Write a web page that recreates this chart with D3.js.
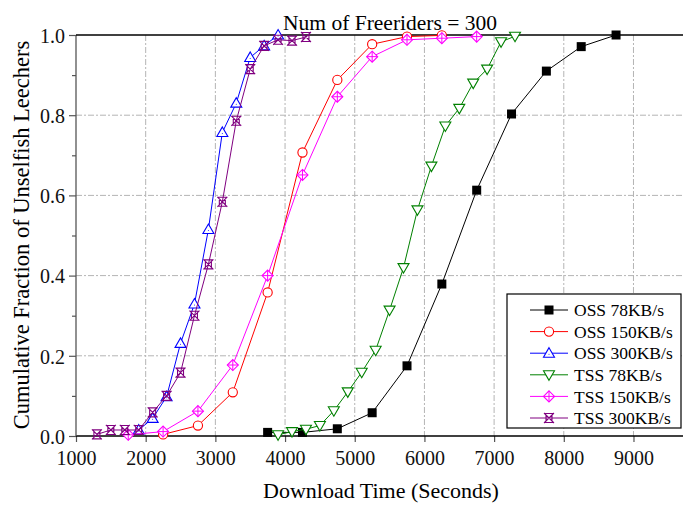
<!DOCTYPE html>
<html>
<head>
<meta charset="utf-8">
<script src="https://cdn.jsdelivr.net/npm/d3@7"></script>
<style>
  html, body { margin: 0; padding: 0; background: #fff; }
  svg { display: block; font-family: "Liberation Serif", "Times New Roman", serif; }
</style>
</head>
<body>
<svg id="chart" width="683" height="505"></svg>
<script>
// Download-time CDFs for unselfish leechers (300 freeriders)
const seriesNames = ["OSS 78KB/s", "OSS 150KB/s", "OSS 300KB/s", "TSS 78KB/s", "TSS 150KB/s", "TSS 300KB/s"];
const seriesColors = ["#000000", "#ff0000", "#0000ff", "#008000", "#ff00ff", "#800080"];
const seriesMarkers = ["square", "circle", "triUp", "triDown", "diamondPlus", "boxCross"];

const oss78X = [3750, 4250, 4750, 5250, 5750, 6250, 6750, 7250, 7750, 8250, 8750];
const oss78Y = [0.009, 0.009, 0.018, 0.058, 0.175, 0.379, 0.613, 0.803, 0.910, 0.971, 1.0];

const oss150X = [2250, 2750, 3250, 3750, 4250, 4750, 5250, 5750, 6250];
const oss150Y = [0.004, 0.026, 0.109, 0.358, 0.707, 0.888, 0.977, 0.996, 0.999];

const oss300X = [1900, 2100, 2300, 2500, 2700, 2900, 3100, 3300, 3500, 3700, 3900];
const oss300Y = [0.015, 0.044, 0.098, 0.231, 0.329, 0.515, 0.757, 0.830, 0.944, 0.973, 1.0];

const tss78X = [3900, 4100, 4300, 4500, 4700, 4900, 5100, 5300, 5500, 5700, 5900, 6100, 6300, 6500, 6700, 6900, 7100, 7300];
const tss78Y = [0.003, 0.011, 0.017, 0.026, 0.063, 0.110, 0.159, 0.214, 0.314, 0.420, 0.564, 0.673, 0.773, 0.817, 0.880, 0.915, 0.983, 0.997];

const tss150X = [1750, 2250, 2750, 3250, 3750, 4250, 4750, 5250, 5750, 6250, 6750];
const tss150Y = [0.003, 0.011, 0.062, 0.177, 0.400, 0.651, 0.846, 0.946, 0.988, 0.992, 0.996];

const tss300X = [1300, 1500, 1700, 1900, 2100, 2300, 2500, 2700, 2900, 3100, 3300, 3500, 3700, 3900, 4100, 4300];
const tss300Y = [0.004, 0.015, 0.015, 0.015, 0.059, 0.100, 0.158, 0.300, 0.428, 0.584, 0.786, 0.915, 0.973, 0.988, 0.986, 0.995];

const xTicks = [1000, 2000, 3000, 4000, 5000, 6000, 7000, 8000, 9000];
const yTicks = [0.0, 0.2, 0.4, 0.6, 0.8, 1.0];
const yMinorTicks = [0.1, 0.3, 0.5, 0.7, 0.9];

const titleText = "Num of Freeriders = 300";
const xLabel = "Download Time (Seconds)";
const yLabel = "Cumulative Fraction of Unselfish Leechers";

const seriesX = [oss78X, oss150X, oss300X, tss78X, tss150X, tss300X];
const seriesY = [oss78Y, oss150Y, oss300Y, tss78Y, tss150Y, tss300Y];
const series = seriesNames.map((name, i) => ({
  name, color: seriesColors[i], marker: seriesMarkers[i],
  points: seriesX[i].map((x, j) => ({ x, y: seriesY[i][j] }))
}));

const svg = d3.select("#chart");
const plotLeft = 76, plotRight = 684, plotTop = 35, plotBottom = 436;
const serif = "Liberation Serif, Times New Roman, serif";

const x = d3.scaleLinear().domain([1000, 9725]).range([plotLeft, plotRight]);
const y = d3.scaleLinear().domain([0, 1]).range([plotBottom, plotTop]);

// dashed grid
const grid = svg.append("g").attr("stroke", "#b4b4b4").attr("stroke-width", 1).attr("stroke-dasharray", "6,2,2,2");
xTicks.slice(1).forEach(v => grid.append("line")
  .attr("x1", x(v)).attr("x2", x(v)).attr("y1", plotTop).attr("y2", plotBottom));
yTicks.slice(1, -1).forEach(v => grid.append("line")
  .attr("x1", plotLeft).attr("x2", plotRight).attr("y1", y(v)).attr("y2", y(v)));

// axes
const xAxis = d3.axisBottom(x).tickValues(xTicks).tickFormat(d3.format("d")).tickSize(6).tickPadding(4);
const gx = svg.append("g").attr("transform", `translate(0,${plotBottom})`).call(xAxis);
const yAxis = d3.axisLeft(y).tickValues(yTicks).tickFormat(d3.format(".1f")).tickSize(7).tickPadding(4);
const gy = svg.append("g").attr("transform", `translate(${plotLeft},0)`).call(yAxis);
const yMinor = d3.axisLeft(y).tickValues(yMinorTicks).tickFormat("").tickSize(4);
const gym = svg.append("g").attr("transform", `translate(${plotLeft},0)`).call(yMinor);
[gx, gy, gym].forEach(g => {
  g.attr("font-family", serif).attr("font-size", 20);
  g.select(".domain").remove();
  g.selectAll(".tick line").attr("stroke", "#555").attr("stroke-width", 1.2);
  g.selectAll(".tick text").attr("fill", "#111");
});
gx.selectAll(".tick text").attr("dy", "0.95em");
gy.selectAll(".tick text").attr("dy", "0.36em");

// frame
svg.append("line").attr("x1", plotLeft).attr("x2", plotRight).attr("y1", plotBottom).attr("y2", plotBottom)
  .attr("stroke", "#000").attr("stroke-width", 1.3);
svg.append("line").attr("x1", plotLeft).attr("x2", plotLeft).attr("y1", plotTop).attr("y2", plotBottom)
  .attr("stroke", "#555").attr("stroke-width", 1.3);
svg.append("line").attr("x1", plotLeft).attr("x2", plotRight).attr("y1", plotTop).attr("y2", plotTop)
  .attr("stroke", "#000").attr("stroke-width", 1.3);

// marker drawing
function drawMarker(g, type, color) {
  switch (type) {
    case "square":
      g.append("rect").attr("x", -4.5).attr("y", -4.5).attr("width", 9).attr("height", 9).attr("fill", color);
      break;
    case "circle":
      g.append("circle").attr("r", 4.6).attr("fill", "#fff").attr("stroke", color).attr("stroke-width", 1.1);
      break;
    case "triUp":
      g.append("path").attr("d", "M0,-5.5L5.5,4L-5.5,4Z").attr("fill", "#fff").attr("stroke", color).attr("stroke-width", 1.1);
      g.append("circle").attr("r", 0.5).attr("cy", 1).attr("fill", color);
      break;
    case "triDown":
      g.append("path").attr("d", "M0,5.5L5.5,-4L-5.5,-4Z").attr("fill", "#fff").attr("stroke", color).attr("stroke-width", 1.1);
      break;
    case "diamondPlus":
      g.append("path").attr("d", "M0,-5.5L5.5,0L0,5.5L-5.5,0Z").attr("fill", "#fff").attr("stroke", color).attr("stroke-width", 1.1);
      g.append("path").attr("d", "M0,-5.5V5.5M-5.5,0H5.5").attr("stroke", color).attr("stroke-width", 1);
      break;
    case "boxCross":
      g.append("path").attr("d", "M-5,-5L5,5M-5,5L5,-5M-5,-4.5L5,-4.5M-5,4.5L5,4.5M-3,-3V3M3,-3V3")
        .attr("fill", "none").attr("stroke", color).attr("stroke-width", 1.1);
      break;
  }
}

const line = d3.line().x(d => x(d.x)).y(d => y(d.y));
const plot = svg.append("g");
series.forEach(s => {
  const g = plot.append("g");
  g.append("path").datum(s.points).attr("d", line)
    .attr("fill", "none").attr("stroke", s.color).attr("stroke-width", 1);
  g.selectAll("g.pt").data(s.points).join("g").attr("class", "pt")
    .attr("transform", d => `translate(${x(d.x)},${y(d.y)})`)
    .each(function () { drawMarker(d3.select(this), s.marker, s.color); });
});

// legend
const lg = svg.append("g").attr("font-family", serif);
lg.append("rect").attr("x", 507).attr("y", 294).attr("width", 174).attr("height", 134)
  .attr("fill", "#fff").attr("stroke", "#000").attr("stroke-width", 1.2);
series.forEach((s, i) => {
  const yy = 310 + i * 21.6;
  const row = lg.append("g");
  row.append("line").attr("x1", 530).attr("x2", 568).attr("y1", yy).attr("y2", yy)
    .attr("stroke", s.color).attr("stroke-width", 1);
  drawMarker(row.append("g").attr("transform", `translate(549,${yy})`), s.marker, s.color);
  row.append("text").attr("x", 574).attr("y", yy).attr("dy", "0.35em")
    .attr("font-size", 17.5).attr("fill", "#000").text(s.name);
});

// titles
const labels = svg.append("g").attr("font-family", serif).attr("fill", "#000");
labels.append("text").attr("x", 390).attr("y", 30).attr("text-anchor", "middle")
  .attr("font-size", 21.5).text(titleText);
labels.append("text").attr("x", 381).attr("y", 498).attr("text-anchor", "middle")
  .attr("font-size", 22).text(xLabel);
labels.append("text").attr("transform", "translate(29,235) rotate(-90)").attr("text-anchor", "middle")
  .attr("font-size", 22.5).text(yLabel);
</script>
</body>
</html>
